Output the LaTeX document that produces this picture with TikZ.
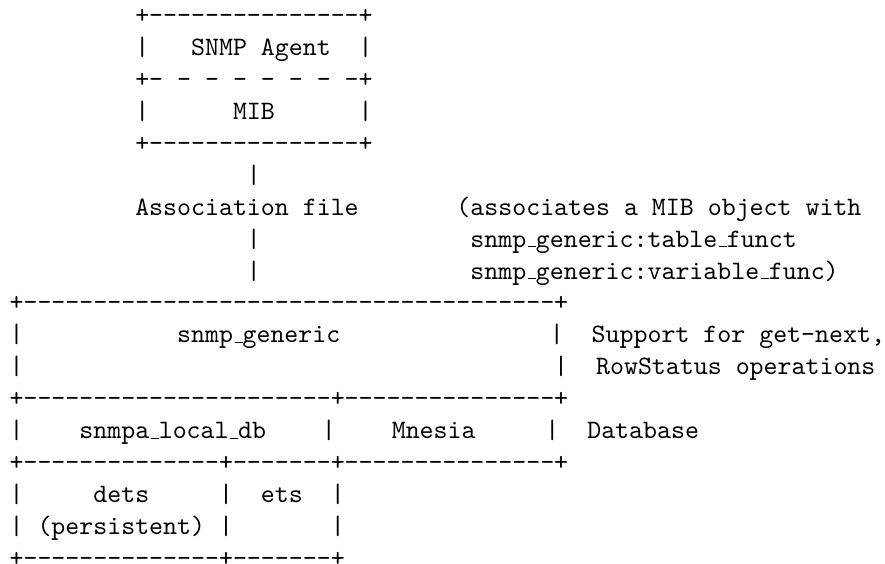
\documentclass[tikz,border=0pt]{standalone}
\usepackage{tikz}

% underscore drawn as a short rule, as in the old typewriter encoding
\newcommand{\us}{\kern.06em\vbox{\hrule width.3em}}

\tikzstyle{row} = [anchor=base west, inner sep=0pt, font=\ttfamily]

\begin{document}
\begin{tikzpicture}
\useasboundingbox (0,0) rectangle (332.7pt,-212pt);

\begin{scope}[xshift=3.4pt, yshift=-8.9pt, y=12pt]
		\node (r1) [row] at (0,0) {~~~~~~~~~+---------------+};
		\node (r2) [row] at (0,-1) {~~~~~~~~~|~~~SNMP~Agent~~|};
		\node (r3) [row] at (0,-2) {~~~~~~~~~+-~-~-~-~-~-~-~-+};
		\node (r4) [row] at (0,-3) {~~~~~~~~~|~~~~~~MIB~~~~~~|};
		\node (r5) [row] at (0,-4) {~~~~~~~~~+---------------+};
		\node (r6) [row] at (0,-5) {~~~~~~~~~~~~~~~~~|};
		\node (r7) [row] at (0,-6) {~~~~~~~~~Association~file~~~~~~~(associates~a~MIB~object~with};
		\node (r8) [row] at (0,-7) {~~~~~~~~~~~~~~~~~|~~~~~~~~~~~~~~~snmp\us{}generic:table\us{}funct};
		\node (r9) [row] at (0,-8) {~~~~~~~~~~~~~~~~~|~~~~~~~~~~~~~~~snmp\us{}generic:variable\us{}func)};

		% snmp_generic layer
		\node (r10) [row] at (0,-9) {+--------------------------------------+};
		\node (r11) [row] at (0,-10) {|~~~~~~~~~~~snmp\us{}generic~~~~~~~~~~~~~~~|~~Support~for~get-next,};
		\node (r12) [row] at (0,-11) {|~~~~~~~~~~~~~~~~~~~~~~~~~~~~~~~~~~~~~~|~~RowStatus~operations};
		\node (r13) [row] at (0,-12) {+----------------------+---------------+};

		% database layer
		\node (r14) [row] at (0,-13) {|~~~~snmpa\us{}local\us{}db~~~~|~~~~Mnesia~~~~~|~~Database};
		\node (r15) [row] at (0,-14) {+--------------+-------+---------------+};
		\node (r16) [row] at (0,-15) {|~~~~~dets~~~~~|~~ets~~|};
		\node (r17) [row] at (0,-16) {|~(persistent)~|~~~~~~~|};
		\node (r18) [row] at (0,-17) {+--------------+-------+};
\end{scope}
\end{tikzpicture}
\end{document}
